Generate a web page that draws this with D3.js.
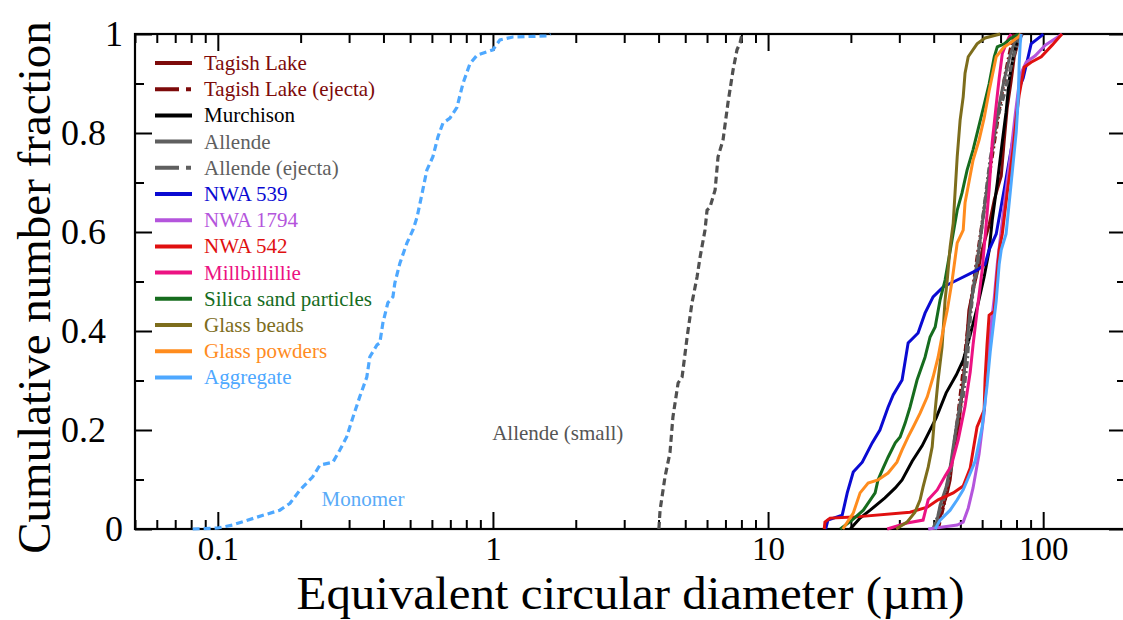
<!DOCTYPE html>
<html><head><meta charset="utf-8">
<script src="https://cdn.jsdelivr.net/npm/d3@7"></script>
<style>html,body{margin:0;padding:0;background:#fff;overflow:hidden}svg{display:block}</style>
</head><body>
<svg id="c" width="1123" height="620"></svg>
<script>
// ---------- data: [diameter (µm), cumulative fraction] ----------
const tagishLake = [[41.2,0],[42.9,0.038],[44.8,0.073],[45.9,0.099],[47.1,0.154],[48.7,0.186],[49.9,0.234],[51.2,0.301],[52.5,0.368],[53.7,0.442],[55.6,0.483],[58.5,0.533],[60.0,0.564],[63.6,0.614],[66.4,0.665],[70.4,0.713],[72.1,0.782],[74.0,0.851],[76.5,0.905],[78.5,0.954],[81.2,0.984],[84.0,1.0]];
const tagishLakeEjecta = [[41.5,0],[44.0,0.059],[45.9,0.119],[47.9,0.18],[49.5,0.25],[51.2,0.321],[52.9,0.392],[54.8,0.463],[57.0,0.533],[59.5,0.604],[62.5,0.685],[65.8,0.766],[69.2,0.846],[72.7,0.917],[75.9,0.968],[78.5,1.0]];
const murchison = [[19.9,0],[21.6,0.022],[23.5,0.038],[26.6,0.063],[29.0,0.083],[30.7,0.099],[33.4,0.137],[36.3,0.168],[40.8,0.224],[44.4,0.275],[48.3,0.311],[51.2,0.341],[54.3,0.392],[57.5,0.446],[61.0,0.509],[63.6,0.562],[65.3,0.624],[68.1,0.699],[71.0,0.782],[73.3,0.842],[75.2,0.905],[77.8,0.954],[79.8,0.978],[81.2,1.0]];
const allende = [[40.5,0],[42.2,0.048],[44.4,0.085],[45.9,0.125],[47.5,0.18],[49.1,0.23],[51.2,0.291],[52.5,0.362],[54.3,0.442],[56.6,0.513],[59.0,0.584],[62.0,0.675],[65.3,0.766],[68.6,0.846],[72.1,0.907],[75.9,0.958],[79.1,0.988],[80.5,1.0]];
const allendeEjecta = [[39.8,0],[43.3,0.055],[46.3,0.123],[48.3,0.206],[51.2,0.269],[52.9,0.337],[54.3,0.426],[55.6,0.481],[57.5,0.523],[58.5,0.564],[61.0,0.65],[64.2,0.747],[68.1,0.83],[72.1,0.877],[75.2,0.919],[78.5,0.96],[81.2,0.988],[82.5,1.0]];
const nwa539 = [[16.2,0],[16.5,0.018],[18.6,0.028],[19.4,0.073],[20.4,0.115],[22.0,0.135],[23.9,0.174],[25.5,0.2],[27.3,0.246],[28.5,0.271],[30.7,0.301],[32.3,0.376],[35.1,0.396],[37.2,0.436],[39.8,0.469],[43.3,0.489],[48.7,0.503],[57.5,0.523],[61.5,0.535],[63.6,0.564],[67.5,0.596],[72.1,0.685],[78.5,0.802],[81.8,0.891],[84.6,0.911],[88.2,0.954],[90.4,0.98],[98.4,0.996],[100,1.0]];
const nwa1794 = [[38.2,0],[48.7,0.008],[51.2,0.014],[53.4,0.042],[55.6,0.083],[58.5,0.152],[61.0,0.234],[62.5,0.309],[64.2,0.398],[66.4,0.467],[68.1,0.535],[70.4,0.604],[73.3,0.685],[76.5,0.766],[79.1,0.836],[82.5,0.917],[86.7,0.943],[93.5,0.956],[102,0.978],[113,0.994],[117,1.0]];
const nwa542 = [[16.0,0],[16.1,0.014],[16.8,0.022],[20.4,0.024],[32.8,0.034],[37.9,0.044],[41.5,0.059],[47.1,0.073],[51.2,0.087],[54.3,0.123],[55.6,0.158],[57.5,0.206],[61.0,0.24],[61.5,0.303],[62.5,0.372],[63.6,0.432],[66.4,0.44],[67.5,0.495],[69.2,0.564],[71.0,0.596],[74.0,0.679],[77.8,0.768],[79.8,0.83],[81.8,0.877],[85.3,0.933],[90.4,0.943],[98.4,0.954],[108,0.978],[117,1.0]];
const millbillillie = [[27.1,0],[32.0,0.012],[36.6,0.018],[38.2,0.059],[41.2,0.079],[44.0,0.107],[46.3,0.127],[49.1,0.18],[52.0,0.248],[54.3,0.317],[55.6,0.372],[57.5,0.44],[60.0,0.523],[61.5,0.59],[63.6,0.685],[65.3,0.782],[67.5,0.857],[69.2,0.911],[71.0,0.96],[73.3,0.98],[75.2,0.994],[76.5,1.0]];
const silicaSand = [[18.3,0],[20.2,0.018],[22.2,0.038],[24.5,0.073],[25.1,0.099],[26.0,0.119],[27.3,0.145],[29.0,0.174],[30.2,0.186],[31.5,0.214],[32.8,0.246],[34.8,0.301],[37.2,0.347],[38.8,0.388],[40.5,0.408],[42.2,0.463],[44.0,0.503],[48.7,0.644],[50.7,0.679],[52.9,0.725],[55.6,0.766],[58.5,0.816],[61.0,0.857],[63.6,0.899],[66.4,0.954],[68.1,0.974],[72.1,0.98],[76.5,0.992],[81.8,1.0]];
const glassBeads = [[29.2,0],[32.0,0.014],[34.2,0.034],[35.7,0.059],[36.6,0.085],[38.2,0.125],[39.5,0.166],[40.5,0.24],[41.5,0.301],[42.9,0.368],[44.0,0.463],[44.8,0.503],[45.9,0.57],[47.1,0.618],[48.7,0.752],[49.9,0.826],[51.2,0.873],[52.0,0.921],[53.4,0.954],[57.5,0.98],[61.5,0.992],[69.8,1.0]];
const glassPowders = [[18.7,0],[20.4,0.032],[21.6,0.073],[23.1,0.093],[25.1,0.099],[27.3,0.113],[29.4,0.135],[30.7,0.16],[32.3,0.186],[33.7,0.206],[35.7,0.234],[37.9,0.267],[39.8,0.307],[41.5,0.347],[43.3,0.402],[44.8,0.442],[46.7,0.503],[48.7,0.578],[51.2,0.604],[52.0,0.659],[53.4,0.693],[55.6,0.745],[58.5,0.786],[61.0,0.83],[63.6,0.885],[67.5,0.954],[72.1,0.974],[75.0,0.98],[81.2,0.994],[83.0,1.0]];
const aggregate = [[40.5,0],[42.2,0.018],[45.9,0.038],[48.7,0.059],[51.2,0.079],[53.4,0.103],[56.6,0.137],[60.0,0.206],[62.5,0.289],[64.2,0.358],[67.5,0.461],[69.2,0.535],[70.4,0.564],[73.3,0.596],[76.5,0.699],[79.8,0.802],[81.2,0.871],[81.8,0.939],[82.5,0.98],[83.2,1.0]];
const monomer = [[0.081,0],[0.1,0.002],[0.113,0.008],[0.139,0.024],[0.168,0.038],[0.183,0.052],[0.199,0.079],[0.221,0.105],[0.235,0.129],[0.262,0.135],[0.278,0.16],[0.294,0.186],[0.310,0.226],[0.328,0.267],[0.348,0.307],[0.357,0.348],[0.379,0.372],[0.388,0.376],[0.398,0.416],[0.415,0.457],[0.433,0.469],[0.440,0.497],[0.459,0.537],[0.487,0.578],[0.512,0.604],[0.530,0.63],[0.556,0.685],[0.575,0.725],[0.605,0.752],[0.631,0.792],[0.658,0.82],[0.698,0.83],[0.740,0.852],[0.778,0.9],[0.825,0.94],[0.875,0.957],[1.0,0.968],[1.06,0.988],[1.18,0.994],[1.57,0.996],[1.62,1.0]];
const allendeSmall = [[4.01,0],[4.05,0.038],[4.22,0.105],[4.40,0.154],[4.51,0.226],[4.71,0.295],[4.87,0.307],[5.08,0.388],[5.29,0.457],[5.52,0.509],[5.66,0.549],[5.90,0.604],[6.0,0.644],[6.15,0.65],[6.42,0.685],[6.58,0.752],[6.86,0.786],[7.15,0.861],[7.46,0.927],[7.71,0.968],[7.91,0.982],[8.04,1.0]];

const legendNames = ["Tagish Lake","Tagish Lake (ejecta)","Murchison","Allende","Allende (ejecta)","NWA 539","NWA 1794","NWA 542","Millbillillie","Silica sand particles","Glass beads","Glass powders","Aggregate"];
const legendColors = ["#7d0a0a","#7d0a0a","#000000","#5f5f5f","#5f5f5f","#0a0ad2","#b455dc","#e01010","#ec1282","#166c1e","#7d6d1c","#ff8c1e","#4ea8ff"];
const legendDashed = [false,true,false,false,true,false,false,false,false,false,false,false,false];
const legendSeries = [tagishLake,tagishLakeEjecta,murchison,allende,allendeEjecta,nwa539,nwa1794,nwa542,millbillillie,silicaSand,glassBeads,glassPowders,aggregate];
const xMajorTicks = [0.1,1,10,100];
const xTickLabels = ["0.1","1","10","100"];
const yMajorTicks = [0,0.2,0.4,0.6,0.8,1];
const yTickLabels = ["0","0.2","0.4","0.6","0.8","1"];
const xTitle = "Equivalent circular diameter (\u00b5m)";
const yTitle = "Cumulative number fraction";

// ---------- layout ----------
const L = 135, R = 1126, T = 34, B = 529;
const svg = d3.select("#c");
const x = d3.scaleLog().domain([0.05, 200]).range([L, R]);
const y = d3.scaleLinear().domain([0, 1]).range([B, T]);
const serif = "'Liberation Serif','Times New Roman',serif";

const xMinor = [];
for (let e = -2; e <= 2; e++) for (let m = 2; m <= 9; m++) { const v = m * Math.pow(10, e); if (v >= 0.05 && v <= 200) xMinor.push(+v.toPrecision(3)); }
const yMinor = [0.1,0.3,0.5,0.7,0.9];

svg.append("clipPath").attr("id","clip").append("rect").attr("x",L).attr("y",T-2).attr("width",R-L).attr("height",B-T+4);

// axes
function styleAxis(g){ g.select(".domain").remove(); g.selectAll("line").attr("stroke","#000").attr("stroke-width",2); g.selectAll("text").attr("font-family",serif).attr("fill","#000"); }
svg.append("g").attr("transform",`translate(0,${B})`).call(d3.axisBottom(x).tickValues(xMajorTicks).tickSize(-17).tickPadding(8).tickFormat((d,i)=>xTickLabels[i])).call(styleAxis).selectAll("text").attr("font-size",33);
svg.append("g").attr("transform",`translate(0,${B})`).call(d3.axisBottom(x).tickValues(xMinor).tickSize(-9).tickFormat("")).call(styleAxis);
svg.append("g").attr("transform",`translate(0,${T})`).call(d3.axisTop(x).tickValues(xMajorTicks).tickSize(-17).tickFormat("")).call(styleAxis);
svg.append("g").attr("transform",`translate(0,${T})`).call(d3.axisTop(x).tickValues(xMinor).tickSize(-9).tickFormat("")).call(styleAxis);
const yAx = svg.append("g").attr("transform",`translate(${L},0)`).call(d3.axisLeft(y).tickValues(yMajorTicks).tickSize(-17).tickPadding(12).tickFormat((d,i)=>yTickLabels[i])).call(styleAxis);
yAx.selectAll("text").attr("font-size",36).attr("dx",(d)=> (d===0||d===1) ? 0 : -17);
svg.append("g").attr("transform",`translate(${L},0)`).call(d3.axisLeft(y).tickValues(yMinor).tickSize(-9).tickFormat("")).call(styleAxis);
svg.append("g").attr("transform",`translate(${R},0)`).call(d3.axisRight(y).tickValues(yMajorTicks).tickSize(-17).tickFormat("")).call(styleAxis);
svg.append("g").attr("transform",`translate(${R},0)`).call(d3.axisRight(y).tickValues(yMinor).tickSize(-9).tickFormat("")).call(styleAxis);
svg.append("rect").attr("x",L).attr("y",T).attr("width",R-L).attr("height",B-T).attr("fill","none").attr("stroke","#000").attr("stroke-width",2.2);

// curves
const line = d3.line().x(d=>x(d[0])).y(d=>y(d[1]));
const plot = svg.append("g").attr("clip-path","url(#clip)");
plot.append("path").datum(monomer).attr("d",line).attr("fill","none").attr("stroke","#4ea8ff").attr("stroke-width",3.2).attr("stroke-dasharray","7,4");
plot.append("path").datum(allendeSmall).attr("d",line).attr("fill","none").attr("stroke","#505050").attr("stroke-width",3.2).attr("stroke-dasharray","7,4");
legendSeries.forEach((s,i)=>{
  plot.append("path").datum(s).attr("d",line).attr("fill","none")
    .attr("stroke",legendColors[i]).attr("stroke-width",legendDashed[i]?3.4:3)
    .attr("stroke-dasharray",legendDashed[i]?"7,3,2,3":null);
});

// annotations
svg.append("text").attr("x",x(0.337)).attr("y",y(0.046)).attr("font-family",serif).attr("font-size",21).attr("fill","#5aabf8").attr("text-anchor","middle").text("Monomer");
svg.append("text").attr("x",x(1.72)).attr("y",y(0.18)).attr("font-family",serif).attr("font-size",21).attr("fill","#555").attr("text-anchor","middle").text("Allende (small)");

// legend
const lg = svg.append("g");
legendNames.forEach((n,i)=>{
  const yy = 63 + i*26.2;
  lg.append("line").attr("x1",155).attr("x2",192).attr("y1",yy).attr("y2",yy).attr("stroke",legendColors[i]).attr("stroke-width",4)
    .attr("stroke-dasharray",legendDashed[i]?"24,7,5,20":null);
  lg.append("text").attr("x",204).attr("y",yy+7).attr("font-family",serif).attr("font-size",21).attr("fill",legendColors[i]).text(n);
});

// titles
svg.append("text").attr("x",(L+R)/2).attr("y",609).attr("text-anchor","middle").attr("font-family",serif).attr("font-size",47)
  .attr("textLength",668).attr("lengthAdjust","spacingAndGlyphs").text(xTitle);
svg.append("text").attr("transform",`translate(50,${(T+B)/2+6}) rotate(-90)`).attr("text-anchor","middle").attr("font-family",serif).attr("font-size",47).text(yTitle);
</script>
</body></html>
